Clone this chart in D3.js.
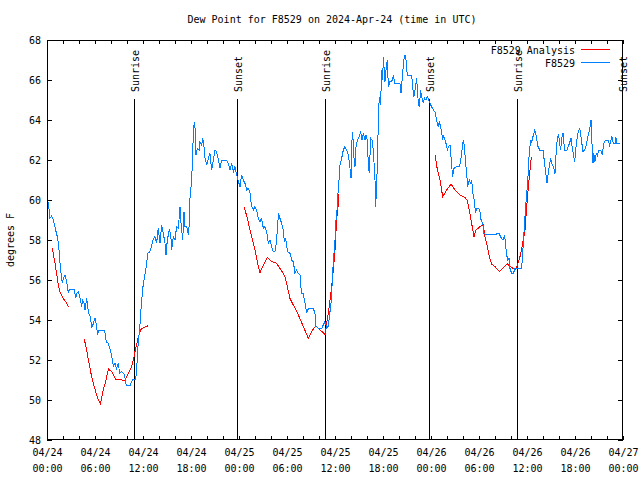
<!DOCTYPE html>
<html>
<head>
<meta charset="utf-8">
<script src="https://cdn.jsdelivr.net/npm/d3@7"></script>
<style>
  body { margin: 0; background: #fff; }
  svg { display: block; }
  text { font-family: "DejaVu Sans Mono", monospace; font-size: 10px; fill: #000; }
</style>
</head>
<body>
<div id="chart"></div>
<script>
// hours since 2024-04-24 00:00 UTC
const obsHours = [0.1,0.17,0.375,0.55,0.8,1.08,1.33,1.5,1.6,1.7,1.92,2.05,2.25,2.45,2.67,2.8,3.4,3.6,3.75,3.9,4.05,4.33,4.45,4.6,4.75,4.95,5.2,5.4,5.6,5.8,6.0,6.15,6.33,6.45,7.2,7.4,7.67,7.9,8.1,8.3,8.5,8.7,8.9,9.1,9.3,9.6,9.8,9.9,10.4,10.7,11.08,11.2,11.4,11.6,11.8,12.0,12.2,12.4,12.6,12.85,13.1,13.3,13.5,13.7,13.9,
  14.125,14.33,14.54,14.75,14.875,15.04,15.29,15.46,15.58,15.79,16.0,16.2,16.42,16.625,16.75,16.96,17.125,17.25,17.46,17.67,17.79,17.875,18.08,18.2,18.29,18.42,18.54,18.625,18.79,19.04,19.125,19.33,19.46,19.625,19.75,19.96,20.17,20.375,20.58,20.79,21.0,21.2,21.42,21.625,21.83,22.46,22.67,22.875,23.08,23.29,23.5,23.71,23.92,
  24.125,24.33,24.54,24.75,24.96,25.17,25.375,25.58,25.79,26.0,26.2,26.42,26.625,26.83,27.04,27.25,27.46,27.67,27.875,28.08,28.29,28.5,28.71,28.83,28.96,29.125,29.33,29.54,29.67,29.75,29.96,30.04,30.375,30.58,30.79,31.0,31.2,31.42,31.625,31.7,31.83,32.04,32.25,32.46,32.67,33.29,33.5,33.625,33.92,34.33,34.75,34.96,35.17,35.29,35.46,35.58,35.7,35.875,
  36.0,36.125,36.29,36.42,36.54,36.625,36.83,37.04,37.25,37.46,37.67,37.875,38.0,38.125,38.2,38.375,38.5,38.625,38.79,39.04,39.2,39.375,39.54,39.75,39.875,40.04,40.17,40.29,40.46,40.625,40.79,41.0,41.08,41.2,41.33,41.42,41.54,41.7,41.83,41.96,42.04,42.25,42.375,42.54,42.67,42.875,43.08,43.29,43.5,43.71,44.125,44.25,44.46,44.6,44.75,44.875,44.96,45.08,45.58,45.7,45.875,46.0,46.2,46.42,46.54,46.7,46.83,47.04,47.17,47.375,47.54,47.8,47.96,
  48.3,48.5,48.7,48.9,49.04,49.2,49.46,49.6,49.875,50.04,50.2,50.375,50.58,50.7,50.875,51.2,51.54,51.7,51.875,52.04,52.17,52.33,52.46,52.58,52.79,53.0,53.08,53.29,53.4,53.58,53.7,53.9,54.1,54.2,54.35,54.5,54.6,54.8,56.2,56.5,56.8,57.0,57.2,57.3,57.46,57.6,57.75,57.875,58.08,58.3,58.5,59.33,59.54,59.75,59.9,
  60.1,60.3,60.5,60.6,60.75,60.96,61.1,61.375,61.6,62.0,62.2,62.4,62.5,62.7,62.96,63.1,63.3,63.5,63.6,63.8,63.95,64.2,64.4,64.5,64.7,65.0,65.3,65.5,65.7,65.96,66.17,66.4,66.6,66.8,67.0,67.2,67.4,67.7,67.9,68.0,68.1,68.25,68.35,68.4,68.5,68.65,68.8,68.96,69.2,69.4,69.6,69.8,70.2,70.3,70.45,70.6,70.8,71.0,71.1,71.2,71.6];
const obsDew = [59.9,59.83,59.08,59.2,59.0,58.5,58.1,57.5,57.0,56.5,55.83,56.1,56.25,55.95,55.35,55.55,55.55,55.1,55.35,55.4,55.25,54.67,55.0,54.9,54.5,55.08,54.35,54.17,53.6,53.83,54.1,53.8,53.25,53.5,53.5,52.92,52.83,52.5,52.17,51.67,51.83,51.58,51.83,51.33,51.42,51.33,51.0,50.75,50.75,51.03,51.0,51.5,52.83,53.67,54.83,55.67,56.17,56.67,57.33,57.4,57.75,58.08,58.17,57.83,58.58,
  57.83,58.75,58.33,57.83,57.25,58.0,58.5,58.33,57.5,58.17,58.0,58.67,58.6,59.67,58.83,58.0,59.42,58.67,58.7,58.25,58.83,60.08,61.0,62.17,63.33,63.92,63.42,62.25,62.58,62.5,62.92,62.75,63.08,62.67,62.08,61.75,62.08,62.33,61.5,62.0,62.5,62.42,62.0,61.58,62.0,62.0,61.83,61.5,61.83,61.42,61.67,61.25,60.92,
  60.67,61.25,61.0,60.83,60.5,60.58,60.33,59.67,59.5,59.67,59.5,59.08,58.92,59.08,58.58,58.67,58.42,57.83,58.0,57.67,57.42,57.42,58.0,58.83,59.33,59.08,58.83,58.5,57.92,58.1,57.83,57.42,57.33,57.0,56.92,56.33,56.5,56.33,56.25,55.75,55.33,55.33,54.83,54.33,54.58,54.58,54.33,53.67,53.6,53.58,53.92,53.6,53.7,54.17,54.67,55.25,56.33,57.33,
  58.0,59.0,59.67,60.67,61.17,61.75,62.08,62.5,62.67,62.5,62.25,61.58,61.08,63.0,63.42,62.08,61.67,62.67,63.0,63.17,63.42,63.0,63.33,63.0,63.25,63.0,61.75,61.33,63.08,63.0,62.5,61.0,59.67,60.67,62.25,64.17,65.17,64.75,66.5,66.0,67.17,65.92,66.5,67.0,65.67,65.92,65.92,66.17,65.83,65.83,65.83,65.33,66.33,67.0,67.25,67.0,66.5,66.25,66.25,65.67,65.17,65.5,66.08,64.83,64.67,65.5,65.17,64.83,65.1,65.0,65.17,64.92,64.75,
  64.5,64.4,64.0,63.67,63.9,63.67,63.08,63.2,62.83,62.5,62.67,62.75,61.75,61.17,61.58,61.67,61.67,61.92,62.5,63.0,62.67,61.83,61.33,60.67,61.0,60.8,61.0,60.17,60.0,59.33,59.58,59.6,59.5,59.08,58.92,58.75,58.33,58.3,58.3,58.33,58.08,58.0,58.25,57.83,57.25,57.0,57.1,56.58,56.33,56.33,56.58,56.58,57.83,59.17,60.0,
  61.0,62.5,63.0,62.9,63.17,63.5,63.33,62.67,62.5,62.5,61.83,61.17,60.83,61.5,62.08,61.83,61.67,61.33,62.08,63.17,63.25,62.5,63.25,63.33,62.5,62.5,62.83,63.08,62.5,61.92,62.83,63.42,63.58,63.0,62.42,62.5,62.75,63.33,63.67,64.0,63.0,61.83,62.33,62.2,61.92,62.33,62.2,62.5,62.5,62.25,62.83,63.0,63.0,62.67,62.9,63.17,62.83,62.8,63.17,62.83,62.83];

// analysis series, null = gap
const anaHours = [0.67,1.0,1.2,1.42,1.625,2.04,2.33,2.67,3.5,
  4.67,5.0,5.17,5.5,5.79,6.08,6.42,6.67,7.04,7.375,7.67,8.08,8.625,9.33,9.75,10.17,10.5,10.8,11.0,11.33,11.54,11.75,12.04,12.67,18,
  24.67,25.04,25.375,25.7,26.0,26.33,26.625,27.04,27.54,28.0,28.7,29.46,29.75,30.375,30.79,31.42,32.04,32.67,33.08,33.58,34.125,34.54,34.75,34.96,35.17,35.375,35.58,35.79,36.0,36.2,36.42,36.5,42,
  48.5,48.8,49.125,49.46,49.96,50.5,51.0,51.625,52.25,52.54,52.79,53.08,53.375,53.625,54.125,54.54,54.75,55.04,55.29,55.58,56.0,56.54,57.04,57.54,58.08,58.5,58.79,59.125,59.46,59.75,59.96,60.17,60.375,60.54];
const anaDew = [57.58,56.83,56.33,55.75,55.42,55.08,54.92,54.67,null,
  53.03,52.42,52.0,51.33,50.83,50.42,50.0,49.8,50.5,51.0,51.55,51.42,51.03,51.0,51.0,51.33,51.58,52.0,52.42,53.0,53.33,53.53,53.6,53.72,null,
  59.63,59.08,58.5,58.0,57.5,56.83,56.37,56.75,57.13,56.95,56.83,56.37,56.17,55.08,54.75,54.25,53.67,53.08,53.42,53.7,53.5,53.37,53.25,53.83,54.33,55.0,55.67,56.5,57.5,59.0,59.83,60.3,null,
  62.25,61.5,61.0,60.17,60.5,60.8,60.5,60.25,60.13,59.97,59.5,58.83,58.17,58.5,58.67,58.75,58.17,57.67,57.17,56.8,56.67,56.42,56.63,56.8,56.62,56.53,56.73,57.17,57.83,58.5,59.67,60.67,61.5,62.17];

const sunHours = [10.9, 23.8, 34.8, 47.8, 58.8, 71.9];
const sunLabels = ["Sunrise", "Sunset", "Sunrise", "Sunset", "Sunrise", "Sunset"];
const yTicks = [48, 50, 52, 54, 56, 58, 60, 62, 64, 66, 68];

const width = 640, height = 480;
const margin = { top: 40, right: 17, bottom: 40, left: 47 };
const t0 = Date.UTC(2024, 3, 24);
const toDate = h => new Date(t0 + h * 3600000);

const svg = d3.select('#chart').append('svg')
  .attr('width', width).attr('height', height);

const x = d3.scaleUtc()
  .domain([toDate(0), toDate(72)])
  .range([margin.left, width - margin.right]);
const y = d3.scaleLinear()
  .domain([48, 68])
  .range([height - margin.bottom, margin.top]);

const fmtDay = d3.utcFormat('%m/%d'), fmtTime = d3.utcFormat('%H:%M');
const hourTicks = d3.utcHour.every(2).range(toDate(0), toDate(72.01));

function xAxis(g) {
  g.attr('transform', `translate(0,${height - margin.bottom})`)
    .call(d3.axisBottom(x).tickValues(hourTicks).tickSize(-4).tickPadding(9).tickFormat(''));
  g.select('.domain').remove();
  g.selectAll('.tick text').each(function(d) {
    if (d.getUTCHours() % 6 !== 0) return;
    const t = d3.select(this);
    t.append('tspan').attr('x', 0).text(fmtDay(d));
    t.append('tspan').attr('x', 0).attr('dy', '1.6em').text(fmtTime(d));
  });
}
function xAxisTop(g) {
  g.attr('transform', `translate(0,${margin.top})`)
    .call(d3.axisTop(x).tickValues(hourTicks).tickSize(-4).tickFormat(''));
  g.select('.domain').remove();
}
function yAxis(g) {
  g.attr('transform', `translate(${margin.left},0)`)
    .call(d3.axisLeft(y).tickValues(yTicks).tickSize(-5).tickPadding(6));
  g.select('.domain').remove();
}
function yAxisRight(g) {
  g.attr('transform', `translate(${width - margin.right},0)`)
    .call(d3.axisRight(y).tickValues(yTicks).tickSize(-5).tickFormat(''));
  g.select('.domain').remove();
}

svg.append('g').call(xAxis);
svg.append('g').call(xAxisTop);
svg.append('g').call(yAxis);
svg.append('g').call(yAxisRight);
svg.selectAll('.tick line').attr('stroke', '#000');
svg.selectAll('.tick text').attr('font-family', '"DejaVu Sans Mono", monospace').attr('font-size', 10);

// sunrise / sunset markers
const sun = svg.append('g');
sunHours.forEach((h, i) => {
  const sx = Math.round(x(toDate(h))) + 0.5;
  sun.append('line')
    .attr('x1', sx).attr('x2', sx)
    .attr('y1', 99).attr('y2', height - margin.bottom)
    .attr('stroke', '#000').attr('stroke-width', 1);
  sun.append('text')
    .attr('transform', `translate(${sx + 0.5},92) rotate(-90)`)
    .attr('dy', '0.35em')
    .text(sunLabels[i]);
});

const anaData = anaHours.map((h, i) => ({ t: toDate(h), v: anaDew[i] }));
const obsData = obsHours.map((h, i) => ({ t: toDate(h), v: obsDew[i] }));

const line = d3.line()
  .defined(d => d.v !== null)
  .x(d => x(d.t))
  .y(d => y(d.v));

// gnuplot png output is not antialiased
svg.append('path').datum(anaData)
  .attr('fill', 'none').attr('stroke', '#ff0000').attr('stroke-width', 1)
  .attr('shape-rendering', 'crispEdges')
  .attr('d', line);
svg.append('path').datum(obsData)
  .attr('fill', 'none').attr('stroke', '#0080ff').attr('stroke-width', 1)
  .attr('shape-rendering', 'crispEdges')
  .attr('d', line);

// border
svg.append('rect')
  .attr('x', margin.left + 0.5).attr('y', margin.top + 0.5)
  .attr('width', width - margin.left - margin.right - 1)
  .attr('height', height - margin.top - margin.bottom - 1)
  .attr('fill', 'none').attr('stroke', '#000');

// legend
const legend = svg.append('g');
[['F8529 Analysis', '#ff0000', 50], ['F8529', '#0080ff', 63]].forEach(([name, color, ly]) => {
  legend.append('text').attr('x', 575).attr('y', ly).attr('dy', '0.35em')
    .attr('text-anchor', 'end').text(name);
  legend.append('line').attr('x1', 581).attr('x2', 610)
    .attr('y1', ly - 0.5).attr('y2', ly - 0.5)
    .attr('stroke', color).attr('stroke-width', 1);
});

svg.append('text')
  .attr('x', 332).attr('y', 23)
  .attr('text-anchor', 'middle')
  .text('Dew Point for F8529 on 2024-Apr-24 (time in UTC)');

svg.append('text')
  .attr('transform', 'translate(10,240) rotate(-90)')
  .attr('text-anchor', 'middle')
  .attr('dy', '0.35em')
  .text('degrees F');
</script>
</body>
</html>
